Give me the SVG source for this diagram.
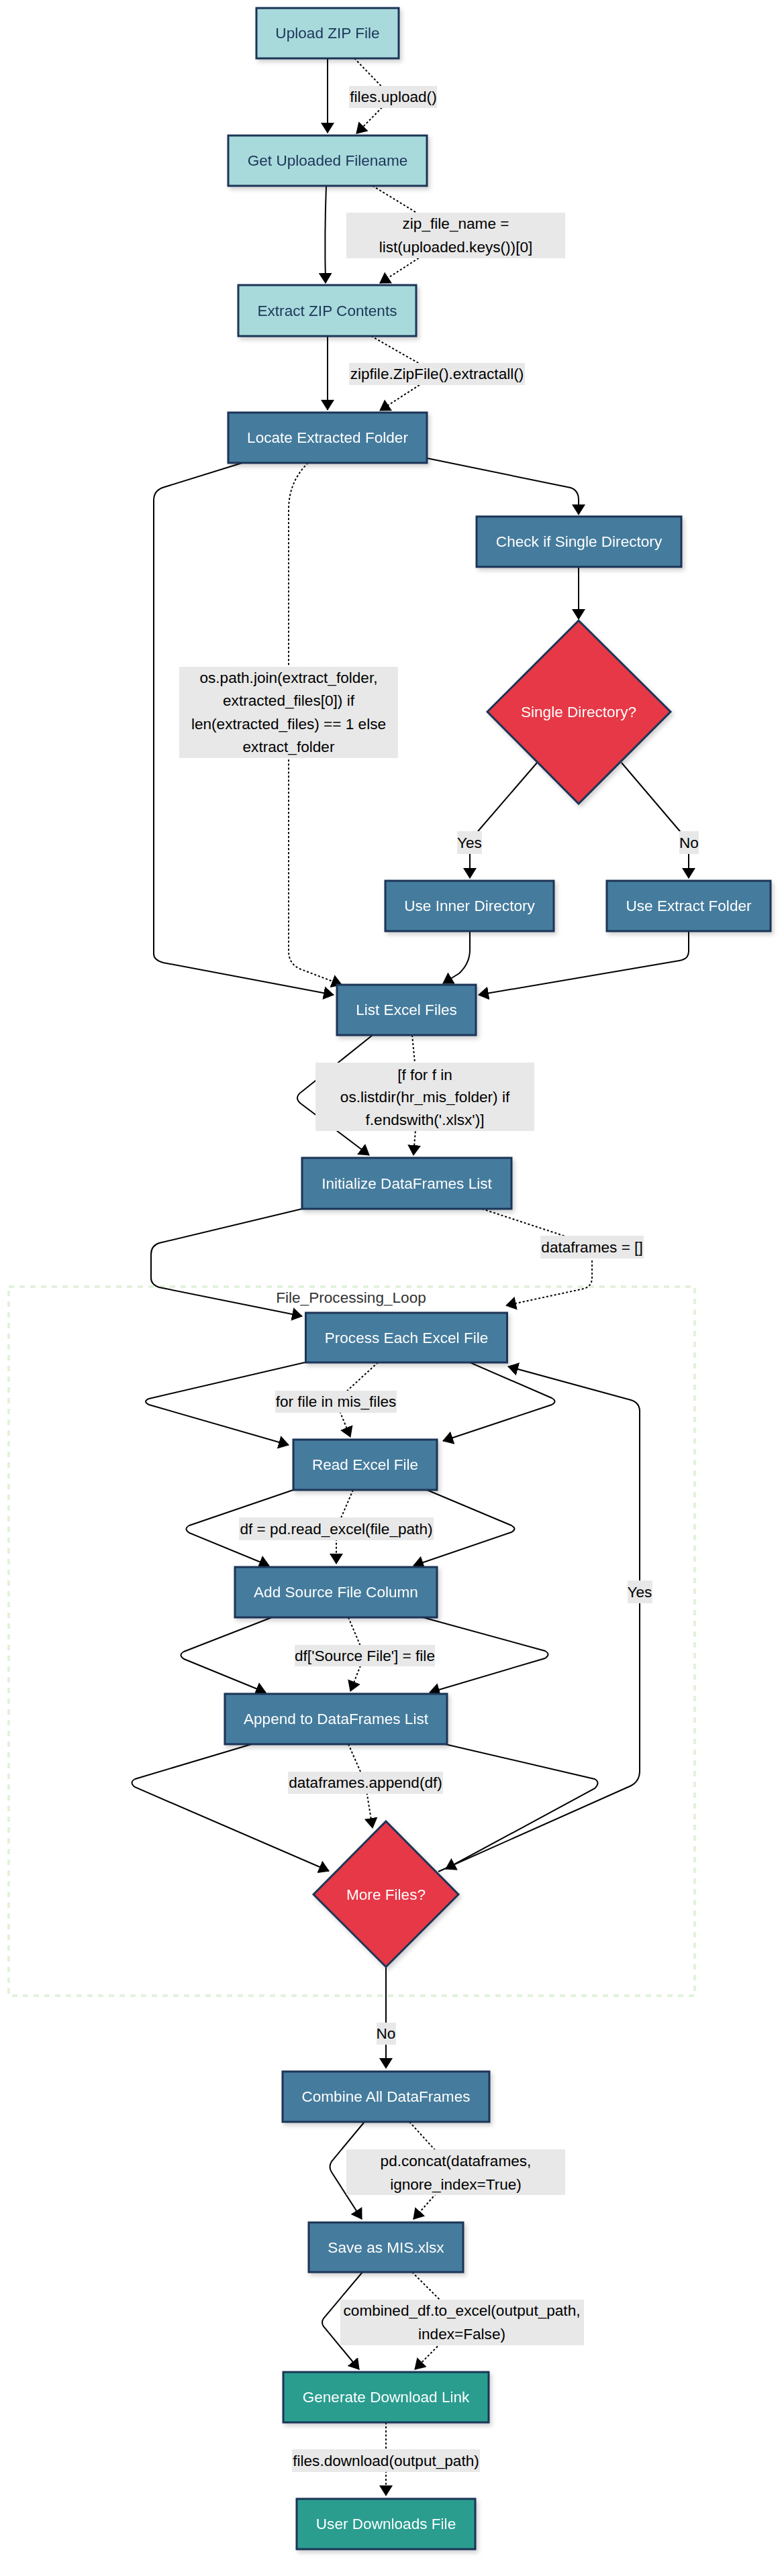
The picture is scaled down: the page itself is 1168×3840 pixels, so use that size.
<svg xmlns="http://www.w3.org/2000/svg" width="1168" height="3840" viewBox="0 0 1168 3840">
<defs>
<marker id="ah" viewBox="0 0 16 20" markerWidth="16" markerHeight="20" refX="15" refY="10" orient="auto" markerUnits="userSpaceOnUse">
<path d="M0,0 L16,10 L0,20 z" fill="#000"/>
</marker>
<filter id="sh" x="-10%" y="-10%" width="130%" height="140%">
<feDropShadow dx="3" dy="4" stdDeviation="3" flood-color="#000" flood-opacity="0.18"/>
</filter>
<style>
text{font-family:"Liberation Sans",Arial,Helvetica,sans-serif;font-size:22.6px;text-anchor:middle}
.start rect{fill:#a8dadc;stroke:#1d3557;stroke-width:3}
.start text{fill:#1d3557}
.proc rect{fill:#457b9d;stroke:#1d3557;stroke-width:3}
.proc text{fill:#fff}
.dec polygon{fill:#e63946;stroke:#1d3557;stroke-width:3}
.dec text{fill:#fff}
.end rect{fill:#2a9d8f;stroke:#1d3557;stroke-width:3}
.end text{fill:#fff}
.node{filter:url(#sh)}
.e{fill:none;stroke:#000;stroke-width:2;marker-end:url(#ah)}
.d{fill:none;stroke:#000;stroke-width:2;stroke-dasharray:3 3;marker-end:url(#ah)}
.lb rect{fill:#e8e8e8}
.lb text{fill:#000}
</style>
</defs>
<rect width="1168" height="3840" fill="#fff"/>

<g id="cluster">
<rect x="13" y="1918" width="1022" height="1057" fill="#fff" stroke="#e2f2dc" stroke-width="4" stroke-dasharray="8 8"/>
<text x="523" y="1942" fill="#333">File_Processing_Loop</text>
</g>

<g id="connectors">
<path class="e" d="M488,87 L488,198"/>
<path class="d" d="M528,87 L584,145 L531,199"/>
<path class="e" d="M486,277 C484,330 484,380 485,422"/>
<path class="d" d="M555,277 L676,351 L566,422"/>
<path class="e" d="M488,501 L488,611"/>
<path class="d" d="M553,501 L651,557 L566,612"/>
<path class="e" d="M361,690 L242,727 Q229,732 229,746 L229,1422 Q229,1431 243,1435 L497,1483"/>
<path class="d" d="M459,690 Q430,718 430,760 L430,1418 Q430,1436 446,1444 L509,1468"/>
<path class="e" d="M636,683 L850,727 Q862,731 862,745 L862,767"/>
<path class="e" d="M862,845 L862,923"/>
<path class="e" d="M800,1137 L713,1238 Q700,1253 700,1266 L700,1309"/>
<path class="e" d="M926,1137 L1012,1238 Q1026,1253 1026,1266 L1026,1309"/>
<path class="e" d="M700,1388 L700,1416 Q700,1436 684,1451 L660,1466"/>
<path class="e" d="M1026,1388 L1026,1418 Q1026,1430 1012,1432 L713,1483"/>
<path class="e" d="M555,1543 L450,1627 Q437,1636 448,1645 L550,1722"/>
<path class="d" d="M614,1543 L623,1635 L616,1722"/>
<path class="e" d="M450,1802 L237,1853 Q225,1857 225,1870 L225,1905 Q225,1915 237,1919 L450,1962"/>
<path class="d" d="M718,1802 L870,1852 Q882,1857 882,1870 L882,1905 Q882,1917 870,1921 L754,1946"/>
<path class="e" d="M454,2031 L222,2085 Q212,2089 222,2094 L430,2154"/>
<path class="d" d="M563,2031 L500,2089 L522,2142"/>
<path class="e" d="M700,2031 L822,2084 Q831,2089 822,2094 L660,2148"/>
<path class="e" d="M437,2221 L282,2274 Q273,2279 282,2285 L401,2334"/>
<path class="d" d="M526,2221 L501,2279 L501,2331"/>
<path class="e" d="M636,2221 L762,2274 Q771,2279 762,2284 L616,2334"/>
<path class="e" d="M405,2411 L274,2462 Q265,2467 274,2473 L396,2523"/>
<path class="d" d="M519,2411 L543,2468 L522,2521"/>
<path class="e" d="M630,2411 L812,2461 Q821,2466 812,2472 L640,2523"/>
<path class="e" d="M375,2600 L201,2652 Q192,2657 201,2664 L490,2789"/>
<path class="d" d="M519,2600 L544,2657 L555,2725"/>
<path class="e" d="M663,2600 L886,2652 Q895,2657 886,2666 L664,2786"/>
<path class="e" d="M653,2790 L940,2662 Q953,2655 953,2640 L953,2104 Q953,2091 940,2087 L757,2037"/>
<path class="e" d="M575,2932 L575,3083"/>
<path class="e" d="M543,3163 L494,3222 Q489,3230 494,3238 L539,3308"/>
<path class="d" d="M610,3163 L678,3238 L616,3308"/>
<path class="e" d="M540,3387 L482,3456 Q478,3462 482,3468 L535,3532"/>
<path class="d" d="M614,3387 L688,3461 L618,3532"/>
<path class="d" d="M575,3611 L575,3720"/>
</g>

<g id="edge-labels">
<g class="lb"><rect x="520" y="128" width="131" height="33"/><text x="586" y="152">files.upload()</text></g>
<g class="lb"><rect x="516" y="317" width="326" height="68"/><text x="679" y="341">zip_file_name =</text><text x="679" y="376">list(uploaded.keys())[0]</text></g>
<g class="lb"><rect x="520" y="541" width="262" height="33"/><text x="651" y="565">zipfile.ZipFile().extractall()</text></g>
<g class="lb"><rect x="267" y="994" width="326" height="136"/><text x="430" y="1018">os.path.join(extract_folder,</text><text x="430" y="1052">extracted_files[0]) if</text><text x="430" y="1087">len(extracted_files) == 1 else</text><text x="430" y="1121">extract_folder</text></g>
<g class="lb"><rect x="681" y="1239" width="37" height="34"/><text x="699.5" y="1264">Yes</text></g>
<g class="lb"><rect x="1012" y="1239" width="29" height="34"/><text x="1026.5" y="1264">No</text></g>
<g class="lb"><rect x="470" y="1584" width="326" height="102"/><text x="633" y="1610">[f for f in</text><text x="633" y="1643">os.listdir(hr_mis_folder) if</text><text x="633" y="1677">f.endswith('.xlsx')]</text></g>
<g class="lb"><rect x="805" y="1842" width="154" height="34"/><text x="882" y="1867">dataframes = []</text></g>
<g class="lb"><rect x="410" y="2073" width="181" height="33"/><text x="500.5" y="2097">for file in mis_files</text></g>
<g class="lb"><rect x="356" y="2262" width="290" height="34"/><text x="501" y="2287">df = pd.read_excel(file_path)</text></g>
<g class="lb"><rect x="439" y="2452" width="209" height="32"/><text x="543.5" y="2476">df['Source File'] = file</text></g>
<g class="lb"><rect x="429" y="2641" width="231" height="33"/><text x="544.5" y="2665">dataframes.append(df)</text></g>
<g class="lb"><rect x="935" y="2356" width="37" height="34"/><text x="953" y="2381">Yes</text></g>
<g class="lb"><rect x="561" y="3015" width="29" height="33"/><text x="575" y="3039">No</text></g>
<g class="lb"><rect x="516" y="3204" width="326" height="68"/><text x="679" y="3229">pd.concat(dataframes,</text><text x="679" y="3264">ignore_index=True)</text></g>
<g class="lb"><rect x="507" y="3428" width="363" height="68"/><text x="688" y="3452">combined_df.to_excel(output_path,</text><text x="688" y="3487">index=False)</text></g>
<g class="lb"><rect x="435" y="3651" width="280" height="34"/><text x="575" y="3676">files.download(output_path)</text></g>
</g>

<g id="n-upload" class="node start"><rect x="382" y="12" width="212" height="75"/><text x="488" y="57">Upload ZIP File</text></g>
<g id="n-getname" class="node start"><rect x="340" y="202" width="296" height="75"/><text x="488" y="247">Get Uploaded Filename</text></g>
<g id="n-extract" class="node start"><rect x="355" y="425" width="265" height="76"/><text x="487.5" y="471">Extract ZIP Contents</text></g>
<g id="n-locate" class="node proc"><rect x="340" y="615" width="296" height="75"/><text x="488" y="660">Locate Extracted Folder</text></g>
<g id="n-check" class="node proc"><rect x="710" y="770" width="305" height="75"/><text x="862.5" y="815">Check if Single Directory</text></g>
<g id="n-single" class="node dec"><polygon points="862,925 999,1061 862,1198 726,1061"/><text x="862" y="1069">Single Directory?</text></g>
<g id="n-inner" class="node proc"><rect x="574" y="1313" width="251" height="75"/><text x="699.5" y="1358">Use Inner Directory</text></g>
<g id="n-extfolder" class="node proc"><rect x="904" y="1313" width="244" height="75"/><text x="1026" y="1358">Use Extract Folder</text></g>
<g id="n-list" class="node proc"><rect x="502" y="1468" width="207" height="75"/><text x="605.5" y="1513">List Excel Files</text></g>
<g id="n-init" class="node proc"><rect x="450" y="1726" width="312" height="76"/><text x="606" y="1772">Initialize DataFrames List</text></g>
<g id="n-process" class="node proc"><rect x="455.5" y="1957" width="300" height="74"/><text x="605.5" y="2002">Process Each Excel File</text></g>
<g id="n-read" class="node proc"><rect x="437" y="2146" width="214" height="75"/><text x="544" y="2191">Read Excel File</text></g>
<g id="n-addsrc" class="node proc"><rect x="350" y="2336" width="301" height="75"/><text x="500.5" y="2381">Add Source File Column</text></g>
<g id="n-append" class="node proc"><rect x="335" y="2525" width="331" height="75"/><text x="500.5" y="2570">Append to DataFrames List</text></g>
<g id="n-more" class="node dec"><polygon points="575,2715 683,2824 575,2932 467,2824"/><text x="575" y="2832">More Files?</text></g>
<g id="n-combine" class="node proc"><rect x="421" y="3088" width="308" height="75"/><text x="575" y="3133">Combine All DataFrames</text></g>
<g id="n-save" class="node proc"><rect x="460" y="3313" width="230" height="74"/><text x="575" y="3358">Save as MIS.xlsx</text></g>
<g id="n-generate" class="node end"><rect x="422" y="3536" width="306" height="75"/><text x="575" y="3581">Generate Download Link</text></g>
<g id="n-user" class="node end"><rect x="442" y="3725" width="266" height="75"/><text x="575" y="3770">User Downloads File</text></g>
</svg>
